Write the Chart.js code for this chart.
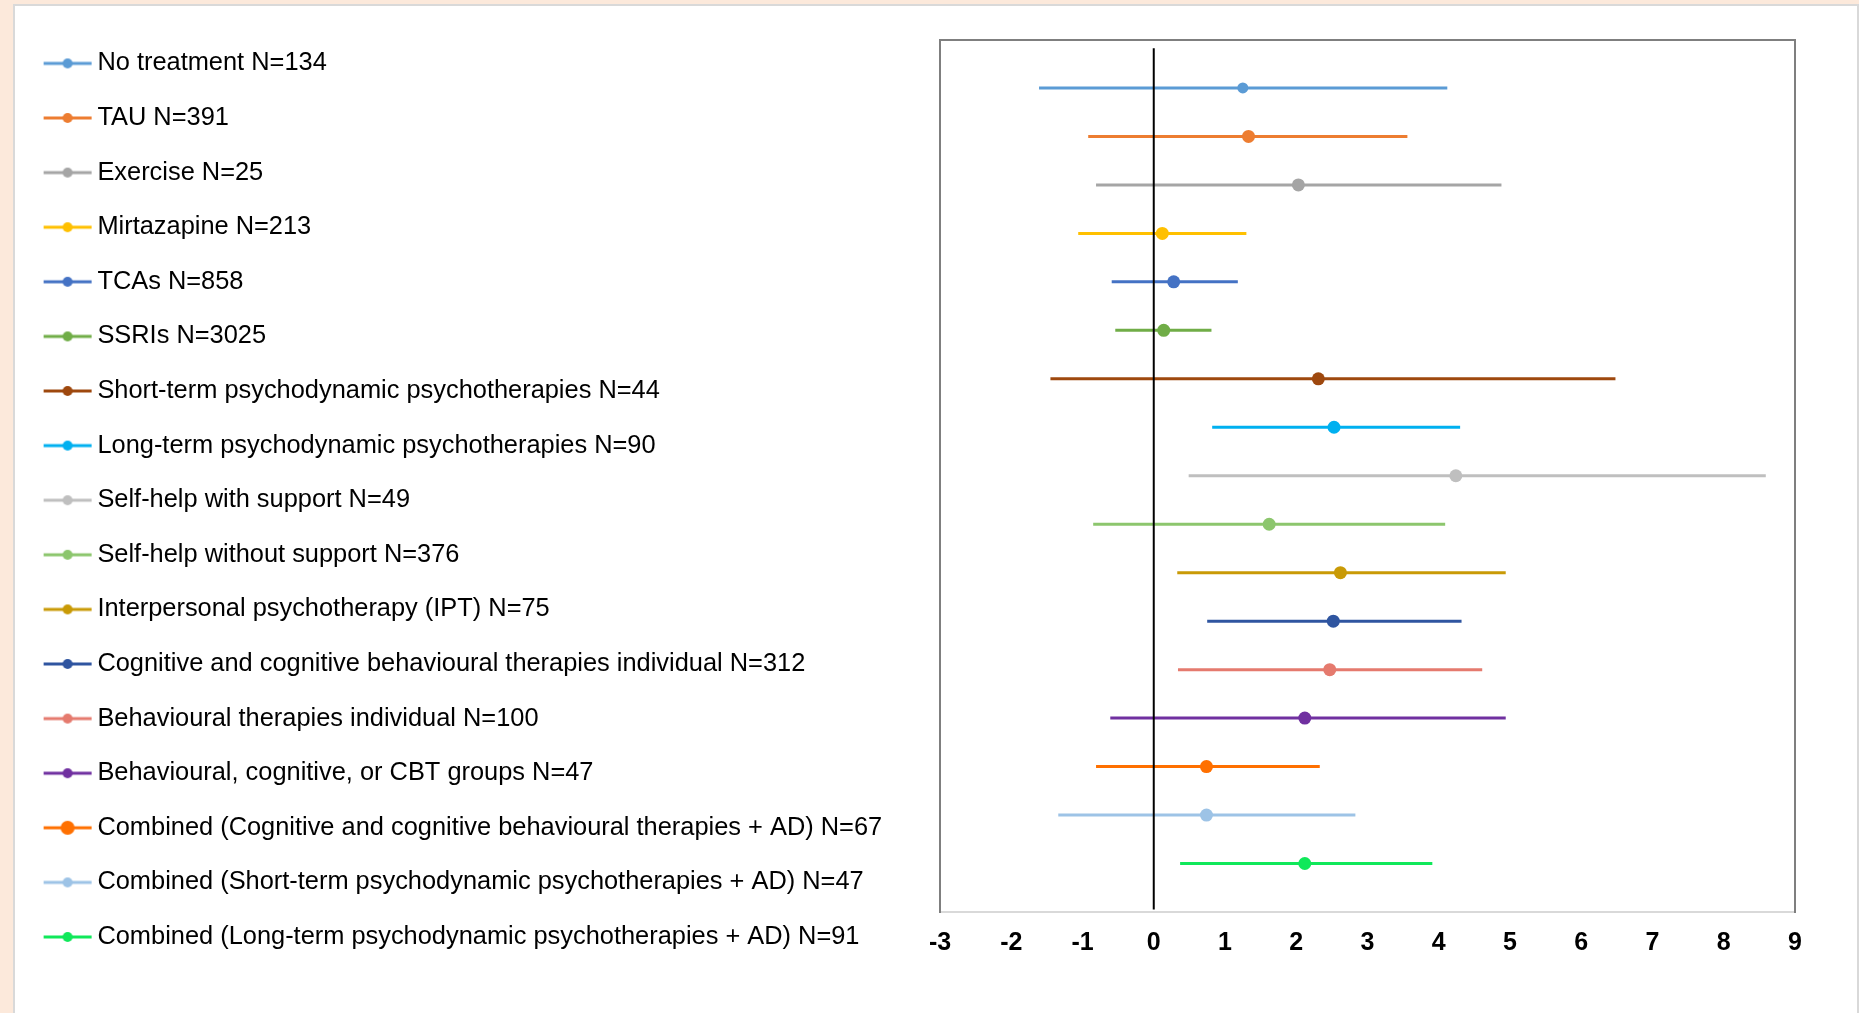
<!DOCTYPE html>
<html>
<head>
<meta charset="utf-8">
<script src="https://cdn.jsdelivr.net/npm/chart.js@4/dist/chart.umd.min.js"></script>
<style>
  html, body { margin: 0; padding: 0; width: 1859px; height: 1013px; overflow: hidden; background: #FCE9DB; }
  #panel { position: absolute; left: 13px; top: 4px; width: 1846px; height: 1020px; box-sizing: border-box;
           background: #fff; border: 2px solid #D9D9D9; }
  #chart { position: absolute; left: 16px; top: 7px; }
</style>
</head>
<body>
<div id="panel"></div>
<canvas id="chart" width="1841" height="1006"></canvas>
<script>
// ---------------- data ----------------
const categories = [
  'No treatment N=134',
  'TAU N=391',
  'Exercise N=25',
  'Mirtazapine N=213',
  'TCAs N=858',
  'SSRIs N=3025',
  'Short-term psychodynamic psychotherapies N=44',
  'Long-term psychodynamic psychotherapies N=90',
  'Self-help with support N=49',
  'Self-help without support N=376',
  'Interpersonal psychotherapy (IPT) N=75',
  'Cognitive and cognitive behavioural therapies individual N=312',
  'Behavioural therapies individual N=100',
  'Behavioural, cognitive, or CBT groups N=47',
  'Combined (Cognitive and cognitive behavioural therapies + AD) N=67',
  'Combined (Short-term psychodynamic psychotherapies + AD) N=47',
  'Combined (Long-term psychodynamic psychotherapies + AD) N=91'
];
const lowerCI = [-1.61, -0.92, -0.81, -1.06, -0.59, -0.54, -1.45, 0.82, 0.49, -0.85, 0.33, 0.75, 0.34, -0.61, -0.81, -1.34, 0.37];
const means   = [ 1.25,  1.33,  2.03,  0.12,  0.28,  0.14,  2.31, 2.53, 4.24,  1.62, 2.62, 2.52, 2.47,  2.12,  0.74,  0.74, 2.12];
const upperCI = [ 4.12,  3.56,  4.88,  1.30,  1.18,  0.81,  6.48, 4.30, 8.59,  4.09, 4.94, 4.32, 4.61,  4.94,  2.33,  2.83, 3.91];
const xTickLabels = ['-3', '-2', '-1', '0', '1', '2', '3', '4', '5', '6', '7', '8', '9'];
const referenceValue = 0;

// ---------------- styles ----------------
const colors = ['#5B9BD5', '#ED7D31', '#A5A5A5', '#FFC000', '#4472C4', '#70AD47', '#9E480E', '#00B0F0',
                '#BFBFBF', '#8CC66D', '#C99A06', '#2F55A0', '#E57A6E', '#7030A0', '#FF7000', '#9DC3E6', '#10E85A'];
const markerR = [5.5, 6.5, 6.5, 6.5, 6.5, 6.5, 6.5, 6.5, 6.5, 6.5, 6.5, 6.5, 6.5, 6.5, 6.5, 6.5, 6.5];
const legendDotR = [5, 5, 5, 5, 5, 5, 5, 5, 5, 5, 5, 5, 5, 5, 7, 5, 5];

const FONT = '"Liberation Sans", Arial, sans-serif';
const LEG_FONT = 25.4, LEG_PAD = 29.2, LEG_BOX = 34.2;
const PAD_L = 5.3, PAD_T = 14.5, PAD_B = 10;
const W = 1841, H = 1006;
const PLOT = { left: 924, right: 1779, top: 32.5, bottom: 905 };

const mctx = document.createElement('canvas').getContext('2d');
mctx.font = LEG_FONT + 'px ' + FONT;
const maxTextW = Math.max(...categories.map(t => mctx.measureText(t).width));
const legendW = LEG_PAD + LEG_BOX + LEG_FONT / 2 + maxTextW + 10;

function legendIcon(color, r) {
  const c = document.createElement('canvas');
  c.width = 50; c.height = 16;
  const g = c.getContext('2d');
  g.strokeStyle = color; g.lineWidth = 3;
  g.beginPath(); g.moveTo(1, 8); g.lineTo(49, 8); g.stroke();
  g.fillStyle = color;
  g.beginPath(); g.arc(25, 8, r, 0, Math.PI * 2); g.fill();
  return c;
}

const datasets = categories.map((name, i) => ({
  label: name,
  data: [{ x: lowerCI[i], y: i + 1 }, { x: means[i], y: i + 1 }, { x: upperCI[i], y: i + 1 }],
  borderColor: colors[i],
  backgroundColor: colors[i],
  borderWidth: 3,
  showLine: true,
  pointRadius: [0, markerR[i], 0],
  pointHoverRadius: [0, markerR[i], 0],
  pointBorderWidth: 0,
  order: 1
}));
datasets.push({
  label: 'zero',
  data: [{ x: referenceValue, y: 0.18 }, { x: referenceValue, y: 17.95 }],
  borderColor: '#000000',
  borderWidth: 2,
  showLine: true,
  pointRadius: 0,
  order: -1
});

const hiddenAxis = (extra) => Object.assign({
  type: 'linear',
  display: true,
  fullSize: false,
  ticks: { display: false },
  grid: { display: false, drawTicks: false },
  border: { display: true, color: '#7F7F7F', width: 2 }
}, extra);

// keep the legend at its natural width (Chart.js caps side boxes at a fraction of the canvas)
const legendWidthPlugin = {
  id: 'legendWidth',
  beforeLayout(chart) {
    const lg = chart.legend;
    if (lg && !lg._wPatched) {
      const origFit = lg.fit;
      lg.fit = function () { origFit.call(this); this.width = legendW; };
      lg._wPatched = true;
    }
  }
};

new Chart(document.getElementById('chart'), {
  type: 'scatter',
  data: { datasets },
  plugins: [legendWidthPlugin],
  options: {
    responsive: false,
    animation: false,
    layout: { padding: { left: PAD_L, top: PAD_T, right: 0, bottom: PAD_B } },
    plugins: {
      tooltip: { enabled: false },
      legend: {
        display: true,
        position: 'left',
        align: 'start',
        labels: {
          usePointStyle: true,
          pointStyleWidth: LEG_BOX,
          boxHeight: LEG_FONT,
          padding: LEG_PAD,
          color: '#000000',
          font: { family: FONT, size: LEG_FONT },
          generateLabels(chart) {
            const items = Chart.defaults.plugins.legend.labels.generateLabels(chart);
            return items
              .filter(it => it.datasetIndex < categories.length)
              .map(it => Object.assign(it, { pointStyle: legendIcon(colors[it.datasetIndex], legendDotR[it.datasetIndex]) }));
          }
        }
      }
    },
    scales: {
      x: {
        type: 'linear',
        position: 'bottom',
        min: -3, max: 9,
        ticks: {
          stepSize: 1,
          autoSkip: false,
          padding: 16,
          color: '#000000',
          font: { family: FONT, size: 25, weight: 'bold' },
          callback: (v) => xTickLabels[Math.round(v) + 3]
        },
        grid: { display: false, drawTicks: false },
        border: { display: true, color: '#D9D9D9', width: 2 },
        afterFit: (s) => { s.height = H - PLOT.bottom - PAD_B; }
      },
      x2: hiddenAxis({ position: 'top', min: -3, max: 9, afterFit: (s) => { s.height = PLOT.top - PAD_T; } }),
      y: hiddenAxis({ position: 'left', min: 0, max: 18, reverse: true,
                      afterFit: (s) => { s.width = PLOT.left - PAD_L - legendW; } }),
      y2: hiddenAxis({ position: 'right', min: 0, max: 18, reverse: true,
                       afterFit: (s) => { s.width = W - PLOT.right; } })
    }
  }
});
</script>
</body>
</html>
